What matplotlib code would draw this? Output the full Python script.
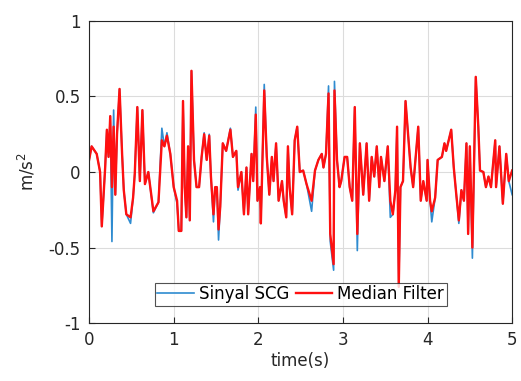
import matplotlib
matplotlib.use("Agg")
import matplotlib.pyplot as plt
import numpy as np

# time (s) and values (m/s^2)
time_s = [0.00, 0.03, 0.09, 0.13, 0.15, 0.19, 0.21, 0.23, 0.25, 0.27, 0.29, 0.31, 0.33, 0.36,
          0.39, 0.41, 0.44, 0.49, 0.52, 0.54, 0.57, 0.60, 0.63, 0.66, 0.70, 0.76, 0.82, 0.86,
          0.89, 0.92, 0.96, 1.00, 1.04, 1.06, 1.09, 1.11, 1.13, 1.15, 1.17, 1.19, 1.21, 1.24,
          1.27, 1.30, 1.33, 1.36, 1.39, 1.42, 1.44, 1.47, 1.49, 1.51, 1.53, 1.55, 1.58, 1.62,
          1.67, 1.70, 1.74, 1.76, 1.80, 1.83, 1.86, 1.88, 1.92, 1.94, 1.97, 1.99, 2.02, 2.03,
          2.07, 2.10, 2.13, 2.16, 2.18, 2.21, 2.24, 2.28, 2.30, 2.33, 2.35, 2.37, 2.40, 2.43,
          2.46, 2.49, 2.53, 2.57, 2.63, 2.67, 2.71, 2.75, 2.77, 2.80, 2.83, 2.85, 2.89, 2.90,
          2.93, 2.96, 2.98, 3.02, 3.05, 3.08, 3.11, 3.14, 3.17, 3.20, 3.24, 3.28, 3.31, 3.34,
          3.37, 3.40, 3.43, 3.45, 3.49, 3.53, 3.56, 3.59, 3.62, 3.64, 3.66, 3.68, 3.71, 3.74,
          3.77, 3.80, 3.83, 3.86, 3.89, 3.92, 3.95, 3.99, 4.00, 4.03, 4.05, 4.09, 4.12, 4.17,
          4.20, 4.22, 4.25, 4.28, 4.31, 4.34, 4.37, 4.40, 4.43, 4.46, 4.48, 4.50, 4.53, 4.57,
          4.60, 4.62, 4.66, 4.69, 4.72, 4.75, 4.80, 4.81, 4.85, 4.89, 4.93, 4.96, 5.00]

median_filter = [0.08, 0.17, 0.12, 0.00, -0.36, 0.03, 0.28, 0.10, 0.37, -0.10, 0.30, -0.15, 0.25, 0.55,
                 0.12, -0.12, -0.28, -0.30, -0.17, -0.01, 0.43, -0.06, 0.41, -0.08, 0.00, -0.26, -0.20, 0.21,
                 0.17, 0.24, 0.12, -0.10, -0.19, -0.39, -0.39, 0.47, -0.10, -0.30, 0.17, -0.32, 0.67, 0.08,
                 -0.10, -0.10, 0.10, 0.25, 0.08, 0.24, -0.03, -0.28, -0.10, -0.10, -0.38, -0.23, 0.19, 0.14,
                 0.28, 0.10, 0.14, -0.10, 0.00, -0.28, 0.03, -0.28, 0.12, -0.06, 0.38, -0.19, -0.10, -0.34,
                 0.54, 0.10, -0.15, 0.10, -0.06, 0.19, -0.19, -0.06, -0.19, -0.30, 0.17, -0.10, -0.28, 0.21,
                 0.30, 0.00, 0.01, -0.08, -0.19, 0.01, 0.08, 0.12, 0.03, 0.12, 0.52, -0.41, -0.61, 0.54,
                 0.08, -0.10, -0.06, 0.10, 0.10, -0.10, -0.19, 0.43, -0.41, 0.19, -0.15, 0.19, -0.19, 0.10,
                 -0.03, 0.17, -0.10, 0.10, -0.06, 0.17, -0.19, -0.28, -0.12, 0.30, -0.76, -0.10, -0.06, 0.47,
                 0.25, 0.03, -0.10, 0.10, 0.30, -0.19, -0.06, -0.19, 0.08, -0.19, -0.26, -0.17, 0.08, 0.10,
                 0.19, 0.14, 0.21, 0.28, 0.03, -0.15, -0.32, -0.12, -0.19, 0.19, -0.41, 0.17, -0.50, 0.63,
                 0.30, 0.01, 0.00, -0.10, -0.03, -0.10, 0.21, -0.10, 0.17, -0.21, 0.12, -0.06, 0.01]

sinyal_scg = [0.08, 0.17, 0.12, 0.00, -0.36, 0.03, 0.28, 0.10, 0.37, -0.46, 0.41, -0.15, 0.25, 0.55,
              0.12, -0.12, -0.28, -0.34, -0.17, -0.01, 0.43, -0.06, 0.41, -0.08, 0.00, -0.27, -0.20, 0.29,
              0.17, 0.26, 0.12, -0.10, -0.21, -0.39, -0.39, 0.47, -0.10, -0.30, 0.17, -0.32, 0.67, 0.08,
              -0.10, -0.10, 0.10, 0.26, 0.08, 0.25, -0.03, -0.33, -0.10, -0.10, -0.45, -0.23, 0.19, 0.14,
              0.29, 0.10, 0.14, -0.12, 0.00, -0.28, 0.03, -0.28, 0.12, -0.06, 0.43, -0.19, -0.10, -0.34,
              0.58, 0.10, -0.15, 0.10, -0.06, 0.19, -0.19, -0.06, -0.19, -0.30, 0.17, -0.10, -0.28, 0.21,
              0.30, 0.00, 0.01, -0.08, -0.26, 0.01, 0.08, 0.12, 0.03, 0.12, 0.57, -0.46, -0.65, 0.60,
              0.08, -0.10, -0.06, 0.10, 0.10, -0.10, -0.19, 0.43, -0.52, 0.19, -0.15, 0.19, -0.19, 0.10,
              -0.03, 0.17, -0.10, 0.10, -0.06, 0.17, -0.30, -0.28, -0.12, 0.30, -0.76, -0.10, -0.06, 0.47,
              0.25, 0.03, -0.10, 0.10, 0.30, -0.19, -0.06, -0.19, 0.08, -0.19, -0.33, -0.17, 0.08, 0.10,
              0.19, 0.14, 0.21, 0.28, 0.03, -0.15, -0.34, -0.12, -0.19, 0.19, -0.41, 0.17, -0.57, 0.63,
              0.30, 0.01, 0.00, -0.10, -0.03, -0.10, 0.21, -0.10, 0.17, -0.21, 0.12, -0.06, -0.15]

fig = plt.figure(figsize=(5.21, 3.81), dpi=100)
ax = fig.add_axes([0.171, 0.152, 0.812, 0.793])

ax.plot(time_s, sinyal_scg, color="#2E8BD0", linewidth=1.2, label="Sinyal SCG")
ax.plot(time_s, median_filter, color="#FF1010", linewidth=1.7, label="Median Filter")

ax.set_xlim(0, 5)
ax.set_ylim(-1, 1)
ax.set_xticks([0, 1, 2, 3, 4, 5])
ax.set_yticks([-1, -0.5, 0, 0.5, 1])
ax.set_yticklabels(["-1", "-0.5", "0", "0.5", "1"])
ax.grid(True, color="#DCDCDC", linewidth=0.8)
ax.set_axisbelow(True)
ax.tick_params(direction="in", length=4, colors="#262626", labelsize=12, pad=6)
for s in ax.spines.values():
    s.set_color("#262626")
    s.set_linewidth(0.8)

ax.set_xlabel("time(s)", fontsize=12, color="#262626", labelpad=2)
ax.set_ylabel("m/s$^2$", fontsize=12, color="#262626", labelpad=8)

leg = ax.legend(loc="lower center", ncol=2, fontsize=12, frameon=True, fancybox=False,
                edgecolor="#262626", borderpad=0.15, handlelength=2.2, columnspacing=0.4,
                handletextpad=0.3, bbox_to_anchor=(0.5, 0.03))
leg.get_frame().set_linewidth(0.8)

plt.savefig("out.png", dpi=100)
